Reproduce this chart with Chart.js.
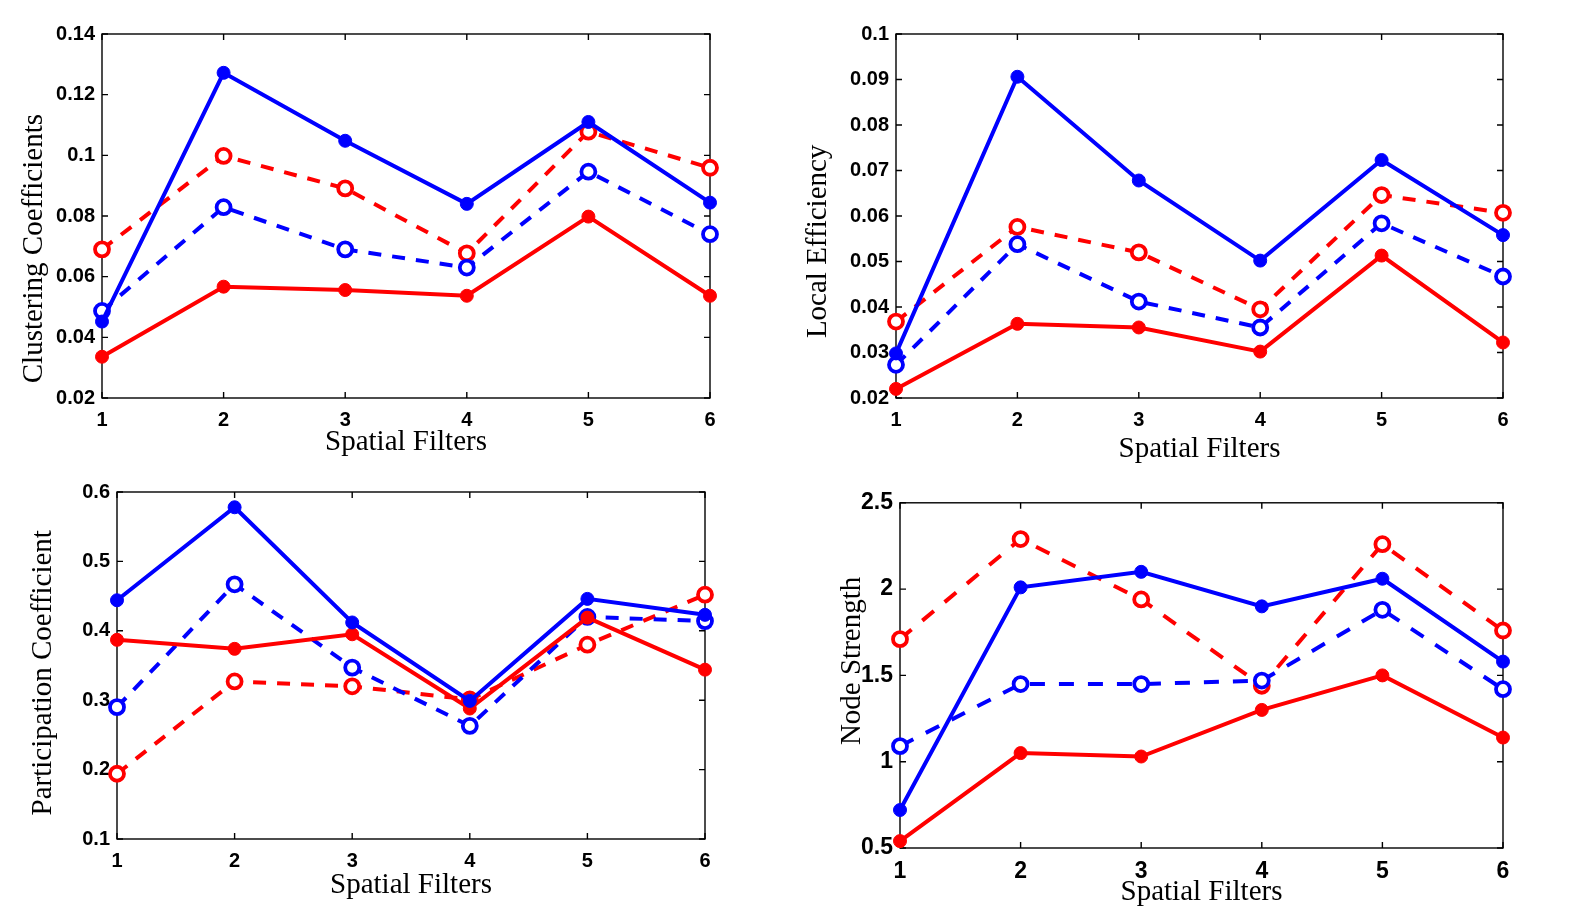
<!DOCTYPE html>
<html>
<head>
<meta charset="utf-8">
<script src="https://cdn.jsdelivr.net/npm/chart.js@4.4.1/dist/chart.umd.min.js"></script>
<style>
body { margin: 0; background: #fff; width: 1577px; height: 909px; overflow: hidden; }
canvas { position: absolute; }
</style>
</head>
<body>
<canvas id="c1" width="715" height="443" style="left:20px;top:14px"></canvas>
<canvas id="c2" width="724" height="450" style="left:804px;top:14px"></canvas>
<canvas id="c3" width="701" height="428" style="left:29px;top:472px"></canvas>
<canvas id="c4" width="690" height="425" style="left:838px;top:482px"></canvas>
<script>
// x categories
const filters = ["1", "2", "3", "4", "5", "6"];

// clustering coefficients
const ccBlue = [0.0452, 0.1272, 0.1048, 0.0840, 0.1110, 0.0844];
const ccBlueDash = [0.0487, 0.0829, 0.0690, 0.0630, 0.0946, 0.0740];
const ccRed = [0.0336, 0.0567, 0.0556, 0.0537, 0.0798, 0.0537];
const ccRedDash = [0.0690, 0.0998, 0.0891, 0.0677, 0.1078, 0.0959];
const ccTicks = [0.02, 0.04, 0.06, 0.08, 0.1, 0.12, 0.14];

// local efficiency
const leBlue = [0.0298, 0.0906, 0.0678, 0.0502, 0.0723, 0.0558];
const leBlueDash = [0.0273, 0.0538, 0.0412, 0.0355, 0.0584, 0.0467];
const leRed = [0.0220, 0.0363, 0.0355, 0.0302, 0.0513, 0.0322];
const leRedDash = [0.0368, 0.0576, 0.0520, 0.0395, 0.0646, 0.0607];
const leTicks = [0.02, 0.03, 0.04, 0.05, 0.06, 0.07, 0.08, 0.09, 0.1];

// participation coefficient
const pcBlue = [0.444, 0.578, 0.412, 0.299, 0.446, 0.423];
const pcBlueDash = [0.290, 0.467, 0.347, 0.263, 0.420, 0.414];
const pcRed = [0.387, 0.374, 0.395, 0.288, 0.419, 0.344];
const pcRedDash = [0.194, 0.327, 0.320, 0.301, 0.380, 0.452];
const pcTicks = [0.1, 0.2, 0.3, 0.4, 0.5, 0.6];

// node strength
const nsBlue = [0.72, 2.01, 2.10, 1.90, 2.06, 1.58];
const nsBlueDash = [1.09, 1.45, 1.45, 1.47, 1.88, 1.42];
const nsRed = [0.54, 1.05, 1.03, 1.30, 1.50, 1.14];
const nsRedDash = [1.71, 2.29, 1.94, 1.44, 2.26, 1.76];
const nsTicks = [0.5, 1, 1.5, 2, 2.5];

const BLUE = "#0000ff";
const RED = "#ff0000";

// box round the plot with inward ticks on all sides
const framePlugin = {
  id: "frame",
  beforeDatasetsDraw(chart) {
    const ctx = chart.ctx;
    const a = chart.chartArea;
    const x = chart.scales.x;
    const y = chart.scales.y;
    ctx.save();
    ctx.strokeStyle = "#000";
    ctx.lineWidth = 1.4;
    ctx.strokeRect(a.left, a.top, a.right - a.left, a.bottom - a.top);
    ctx.beginPath();
    for (let i = 0; i < y.ticks.length; i++) {
      let py = y.getPixelForTick(i);
      ctx.moveTo(a.left, py); ctx.lineTo(a.left + 6, py);
      ctx.moveTo(a.right, py); ctx.lineTo(a.right - 6, py);
    }
    for (let i = 0; i < x.ticks.length; i++) {
      let px = x.getPixelForTick(i);
      ctx.moveTo(px, a.bottom); ctx.lineTo(px, a.bottom - 6);
      ctx.moveTo(px, a.top); ctx.lineTo(px, a.top + 6);
    }
    ctx.stroke();
    ctx.restore();
  }
};

function solid(label, data, color) {
  return {
    label: label, data: data,
    borderColor: color, backgroundColor: color,
    borderWidth: 4, pointRadius: 6.5, pointBorderWidth: 1,
    pointBackgroundColor: color, pointBorderColor: color
  };
}

function dashed(label, data, color, dash) {
  return {
    label: label, data: data,
    borderColor: color, backgroundColor: color,
    borderWidth: 4, borderDash: dash,
    pointRadius: 7, pointBorderWidth: 3.8,
    pointBackgroundColor: "#fff", pointBorderColor: color
  };
}

function makePanel(id, cfg) {
  new Chart(document.getElementById(id), {
    type: "line",
    data: {
      labels: filters,
      datasets: [
        solid("blue", cfg.blue, BLUE),
        solid("red", cfg.red, RED),
        dashed("blue dashed", cfg.blueDash, BLUE, cfg.dash),
        dashed("red dashed", cfg.redDash, RED, cfg.dash)
      ]
    },
    options: {
      responsive: false,
      animation: false,
      layout: { padding: { top: 20, right: 25, left: 0, bottom: 0 } },
      elements: { line: { tension: 0 } },
      plugins: { legend: { display: false }, tooltip: { enabled: false } },
      scales: {
        x: {
          offset: false,
          grid: { display: false, drawTicks: false },
          border: { display: false },
          ticks: {
            color: "#000", padding: cfg.xPad, maxRotation: 0,
            font: { family: "'Liberation Sans', Arial, sans-serif", weight: "bold", size: cfg.tickSize }
          },
          title: {
            display: true, text: "Spatial Filters", color: "#000",
            padding: { top: 0, bottom: 0 },
            font: { family: "'Liberation Serif', 'Times New Roman', serif", size: 29, lineHeight: 1 }
          },
          afterFit: function(scale) { scale.height = cfg.xh; }
        },
        y: {
          min: cfg.ticks[0],
          max: cfg.ticks[cfg.ticks.length - 1],
          grid: { display: false, drawTicks: false },
          border: { display: false },
          afterBuildTicks: function(scale) {
            scale.ticks = cfg.ticks.map(function(v) { return { value: v }; });
          },
          ticks: {
            color: "#000", padding: 7,
            font: { family: "'Liberation Sans', Arial, sans-serif", weight: "bold", size: cfg.tickSize },
            callback: function(v) { return String(v); }
          },
          title: {
            display: true, text: cfg.title, color: "#000",
            padding: { top: 0, bottom: 0 },
            font: { family: "'Liberation Serif', 'Times New Roman', serif", size: 29, lineHeight: 1 }
          },
          afterFit: function(scale) { scale.width = cfg.yw; }
        }
      }
    },
    plugins: [framePlugin]
  });
}

// the y titles sit a little off centre in the original; padded with spaces to match
makePanel("c1", { blue: ccBlue, blueDash: ccBlueDash, red: ccRed, redDash: ccRedDash,
  ticks: ccTicks, title: "Clustering Coefficients" + " ".repeat(9), yw: 82, xh: 59, tickSize: 20, xPad: 10, dash: [13, 11] });
makePanel("c2", { blue: leBlue, blueDash: leBlueDash, red: leRed, redDash: leRedDash,
  ticks: leTicks, title: "Local Efficiency" + " ".repeat(7), yw: 92, xh: 66, tickSize: 20, xPad: 10, dash: [13, 11] });
makePanel("c3", { blue: pcBlue, blueDash: pcBlueDash, red: pcRed, redDash: pcRedDash,
  ticks: pcTicks, title: "Participation Coefficient" + " ".repeat(2), yw: 88, xh: 61, tickSize: 20, xPad: 10, dash: [13, 11] });
makePanel("c4", { blue: nsBlue, blueDash: nsBlueDash, red: nsRed, redDash: nsRedDash,
  ticks: nsTicks, title: " ".repeat(4) + "Node Strength", yw: 62, xh: 59, tickSize: 23, xPad: 10, dash: [15, 14] });
</script>
</body>
</html>
